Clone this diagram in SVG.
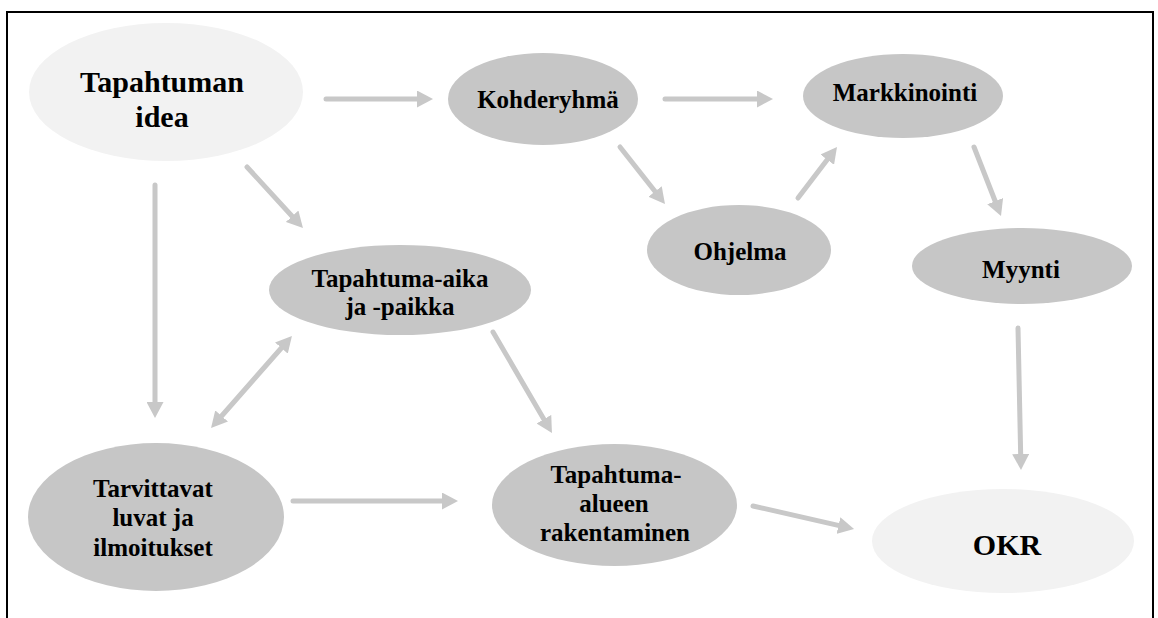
<svg xmlns="http://www.w3.org/2000/svg" width="1158" height="618" viewBox="0 0 1158 618">
<defs>
<style>
.dark{fill:#c6c6c6}
.light{fill:#f2f2f2}
.t{font-weight:bold;fill:#000;text-anchor:middle}
.s25{font-size:25px}
.s30{font-size:30px}
.c{stroke:#c8c8c8;stroke-width:5;stroke-linecap:round;fill:none;marker-end:url(#ah)}
.frame{stroke:#000;stroke-width:2;fill:none}
</style>
<marker id="ah" markerUnits="userSpaceOnUse" markerWidth="16" markerHeight="17" viewBox="0 0 16 17" refX="2" refY="8.5" orient="auto-start-reverse">
<path d="M0,0 L16,8.5 L0,17 z" fill="#c8c8c8"/>
</marker>
</defs>
<rect width="1158" height="618" fill="#fff"/>
<path class="frame" d="M7,618 V12 H1153 V618"/>

<g id="connectors">
<line class="c" x1="326" y1="99" x2="419" y2="99"/>
<line class="c" x1="665" y1="99" x2="759" y2="99"/>
<line class="c" x1="620" y1="147" x2="656.3" y2="193"/>
<line class="c" x1="798" y1="198" x2="828.5" y2="158.1"/>
<line class="c" x1="974" y1="147" x2="995.9" y2="203"/>
<line class="c" x1="1018" y1="328" x2="1020.7" y2="456"/>
<line class="c" x1="155" y1="185" x2="155" y2="404"/>
<line class="c" x1="247" y1="167" x2="293.5" y2="217.7"/>
<line class="c" x1="220.3" y1="417.5" x2="282.7" y2="346.5" marker-start="url(#ah)"/>
<line class="c" x1="493" y1="332" x2="544.9" y2="420.9"/>
<line class="c" x1="293" y1="501" x2="444" y2="501"/>
<line class="c" x1="753" y1="506" x2="840.4" y2="525.9"/>
</g>

<g font-family="Liberation Serif, DejaVu Serif, serif">
<g id="idea">
<ellipse class="light" cx="166" cy="92" rx="137" ry="69"/>
<text class="t s30" x="162" y="92">Tapahtuman</text>
<text class="t s30" x="162" y="127">idea</text>
</g>
<g id="kohderyhma">
<ellipse class="dark" cx="543" cy="99" rx="95" ry="46"/>
<text class="t s25" x="548" y="108">Kohderyhmä</text>
</g>
<g id="markkinointi">
<ellipse class="dark" cx="903" cy="96" rx="100" ry="42"/>
<text class="t s25" x="905" y="101">Markkinointi</text>
</g>
<g id="ohjelma">
<ellipse class="dark" cx="739" cy="250" rx="92" ry="45"/>
<text class="t s25" x="740" y="260">Ohjelma</text>
</g>
<g id="myynti">
<ellipse class="dark" cx="1022" cy="266" rx="110" ry="38"/>
<text class="t s25" x="1021" y="278">Myynti</text>
</g>
<g id="aika">
<ellipse class="dark" cx="400" cy="290" rx="131" ry="45"/>
<text class="t s25" x="400" y="287">Tapahtuma-aika</text>
<text class="t s25" x="400" y="315">ja -paikka</text>
</g>
<g id="luvat">
<ellipse class="dark" cx="156" cy="517" rx="128" ry="74"/>
<text class="t s25" x="153" y="497">Tarvittavat</text>
<text class="t s25" x="153" y="526">luvat ja</text>
<text class="t s25" x="153" y="556">ilmoitukset</text>
</g>
<g id="rakentaminen">
<ellipse class="dark" cx="614.5" cy="505" rx="122.5" ry="61"/>
<text class="t s25" x="616" y="483">Tapahtuma-</text>
<text class="t s25" x="614" y="512">alueen</text>
<text class="t s25" x="615" y="541">rakentaminen</text>
</g>
<g id="okr">
<ellipse class="light" cx="1003" cy="541" rx="131" ry="52"/>
<text class="t s30" x="1007" y="555">OKR</text>
</g>
</g>
</svg>
